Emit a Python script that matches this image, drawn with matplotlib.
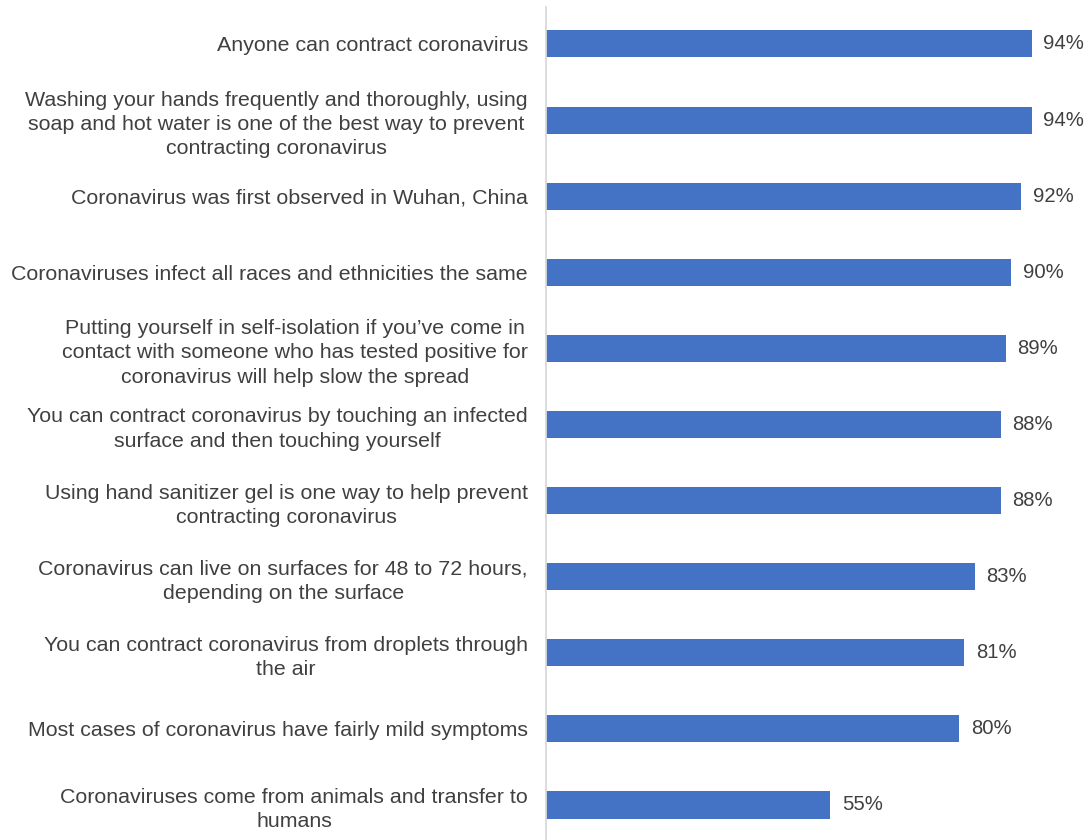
import matplotlib.pyplot as plt

plt.rcParams['font.family'] = ['Liberation Sans', 'DejaVu Sans']

statements = [
    "Anyone can contract coronavirus",
    "Washing your hands frequently and thoroughly, using\nsoap and hot water is one of the best way to prevent\ncontracting coronavirus",
    "Coronavirus was first observed in Wuhan, China",
    "Coronaviruses infect all races and ethnicities the same",
    "Putting yourself in self-isolation if you\u2019ve come in\ncontact with someone who has tested positive for\ncoronavirus will help slow the spread",
    "You can contract coronavirus by touching an infected\nsurface and then touching yourself",
    "Using hand sanitizer gel is one way to help prevent\ncontracting coronavirus",
    "Coronavirus can live on surfaces for 48 to 72 hours,\ndepending on the surface",
    "You can contract coronavirus from droplets through\nthe air",
    "Most cases of coronavirus have fairly mild symptoms",
    "Coronaviruses come from animals and transfer to\nhumans",
]
agree_pct = [94, 94, 92, 90, 89, 88, 88, 83, 81, 80, 55]

text_col = '#404040'
bar_col = '#4472C4'

fig = plt.figure(figsize=(10.89, 8.4), dpi=100)
ax = fig.add_axes([546 / 1089, 0, 516.5 / 1089, 1 - 7 / 840])

pos = list(range(len(statements)))
bars = ax.barh(pos, agree_pct, height=0.355, color=bar_col)
for b, v in zip(bars, agree_pct):
    ax.annotate(f"{v}%", (b.get_width(), b.get_y() + b.get_height() / 2),
                xytext=(8.5, 0), textcoords='offset points',
                va='center', ha='left', fontsize=14.6, color=text_col)

ax.set_xlim(0, 100)
ax.set_ylim(10.46, -0.486)
ax.set_yticks(pos)
ax.set_yticklabels(statements, fontsize=15.4, color=text_col, ha='right',
                   multialignment='center', linespacing=1.34)
ax.tick_params(axis='y', length=0, pad=13)
ax.set_xticks([])
for side in ['top', 'right', 'bottom']:
    ax.spines[side].set_visible(False)
ax.spines['left'].set_color('#D9D9D9')
ax.spines['left'].set_linewidth(1.3)

fig.savefig('out.png', dpi=100)
